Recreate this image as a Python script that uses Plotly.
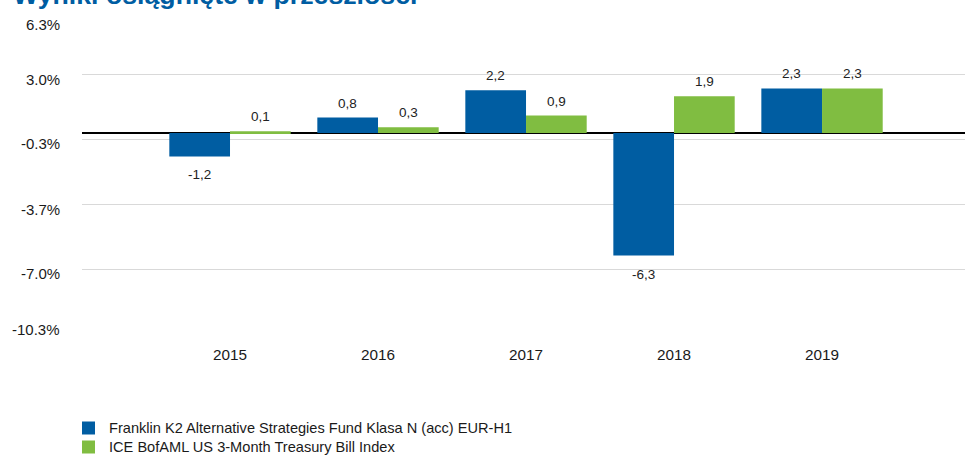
import plotly.graph_objects as go

years = ["2015", "2016", "2017", "2018", "2019"]
fund = [-1.2, 0.8, 2.2, -6.3, 2.3]
index = [0.1, 0.3, 0.9, 1.9, 2.3]
series_names = [
    "Franklin K2 Alternative Strategies Fund Klasa N (acc) EUR-H1",
    "ICE BofAML US 3-Month Treasury Bill Index",
]
tick_vals = [6.3333, 3.0, -0.3333, -3.6667, -7.0, -10.3333]
tick_text = ["6.3%", "3.0%", "-0.3%", "-3.7%", "-7.0%", "-10.3%"]
title = "Wyniki osiągnięte w przeszłości"

W, H = 965, 455
FONT = "Liberation Sans, Arial, sans-serif"
BLUE = "#005DA2"
GREEN = "#80BD41"
BARGAP = 0.18
# vertical nudge (px) of each y-axis label relative to its gridline
LABEL_NUDGE = [-14, -5, -4, -5, -4, 5]


def fmt(v):
    return f"{v:.1f}".replace(".", ",")


def px_x(p):
    return p / W


def px_y(p):
    return 1 - p / H


x_pos = list(range(len(years)))
series = [(series_names[0], fund, BLUE), (series_names[1], index, GREEN)]

fig = go.Figure()
for name, vals, color in series:
    fig.add_trace(go.Bar(
        x=x_pos, y=vals, name=name,
        marker=dict(color=color, line=dict(width=0)),
    ))

# value labels: above positive bars, below negative ones
bar_w = (1 - BARGAP) / len(series)
for k, (_, vals, _) in enumerate(series):
    offset = (k - (len(series) - 1) / 2) * bar_w
    for i, v in zip(x_pos, vals):
        fig.add_annotation(
            x=i + offset, y=v, xref="x", yref="y", text=fmt(v),
            showarrow=False, yanchor="bottom" if v >= 0 else "top",
            yshift=5 if v >= 0 else -9,
            font=dict(family=FONT, size=13.5, color="#222222"),
        )

# y-axis labels, right-aligned left of the plot area
for val, txt, nudge in zip(tick_vals, tick_text, LABEL_NUDGE):
    fig.add_annotation(
        x=px_x(62), xref="paper", xanchor="right", y=val, yref="y", yanchor="middle",
        yshift=nudge, text=txt, showarrow=False,
        font=dict(family=FONT, size=15, color="#1a1a1a"),
    )

# legend drawn below the plot area
for k, (name, _, color) in enumerate(series):
    cy = 428 + 19 * k
    fig.add_shape(
        type="rect", xref="paper", yref="paper",
        x0=px_x(82), x1=px_x(95), y0=px_y(cy + 6.5), y1=px_y(cy - 6.5),
        fillcolor=color, line=dict(width=0),
    )
    fig.add_annotation(
        text=name, xref="paper", yref="paper",
        x=px_x(107), xanchor="left", y=px_y(cy), yanchor="middle",
        showarrow=False, font=dict(family=FONT, size=14.6, color="#1a1a1a"),
    )

fig.update_layout(
    width=W, height=H,
    margin=dict(l=0, r=0, t=0, b=0),
    paper_bgcolor="white", plot_bgcolor="white",
    barmode="group", bargap=BARGAP, bargroupgap=0,
    font=dict(family=FONT, size=15, color="#1a1a1a"),
    showlegend=False,
    xaxis=dict(
        domain=[px_x(82), 1],
        range=[-1, 4.966], tickmode="array", tickvals=x_pos, ticktext=years,
        showgrid=False, zeroline=False, showline=False, ticks="",
        tickfont=dict(size=15.3), automargin=False, ticklabelstandoff=10,
    ),
    yaxis=dict(
        domain=[px_y(334), px_y(10)],
        range=[-10.3333, 6.3333], tickmode="array", tickvals=tick_vals,
        showticklabels=False,
        showgrid=True, gridcolor="#D9D9D9", gridwidth=1.2,
        zeroline=True, zerolinecolor="#000000", zerolinewidth=1.5,
        showline=False, ticks="", automargin=False,
    ),
)

fig.add_annotation(
    text=f"<b>{title}</b>", xref="paper", yref="paper",
    x=px_x(11), xanchor="left", y=px_y(10), yanchor="bottom", yshift=-2,
    showarrow=False, font=dict(family=FONT, size=26.7, color="#005DA2"),
)

fig.write_html("out.html")
